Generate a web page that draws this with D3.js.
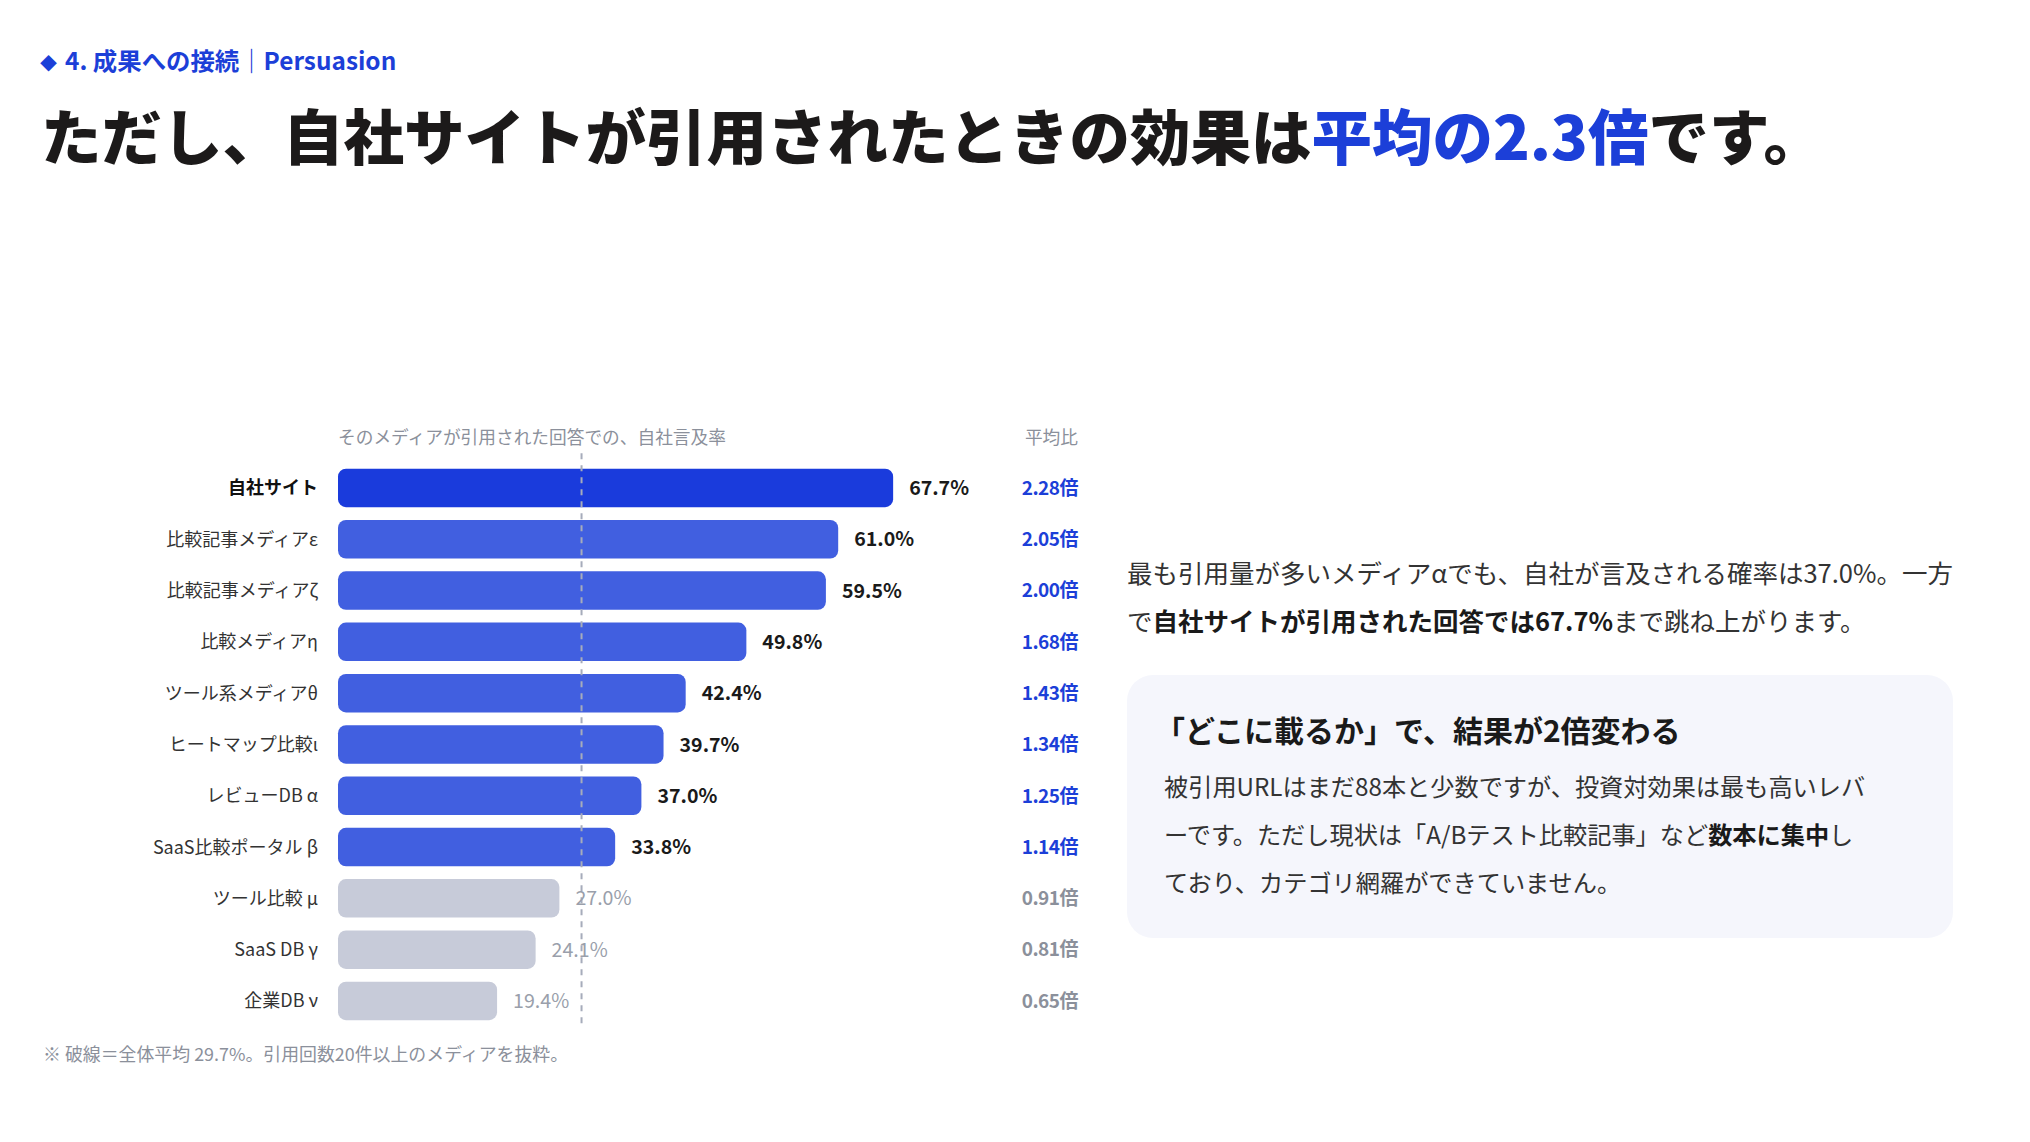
<!DOCTYPE html>
<html>
<head>
<meta charset="utf-8">
<script src="https://cdn.jsdelivr.net/npm/d3@7"></script>
<style>
  html, body { margin: 0; padding: 0; background: #fff; }
  svg { display: block; font-family: "Noto Sans CJK JP", "Noto Sans", sans-serif; }
</style>
</head>
<body>
<script>
// Data
const categories = [
  '自社サイト', '比較記事メディアε', '比較記事メディアζ', '比較メディアη',
  'ツール系メディアθ', 'ヒートマップ比較ι', 'レビューDB α', 'SaaS比較ポータル β',
  'ツール比較 μ', 'SaaS DB γ', '企業DB ν'
];
const values = [67.7, 61.0, 59.5, 49.8, 42.4, 39.7, 37.0, 33.8, 27.0, 24.1, 19.4];
const ratios = ['2.28', '2.05', '2.00', '1.68', '1.43', '1.34', '1.25', '1.14', '0.91', '0.81', '0.65'];
const average = 29.7;

const dataset = categories.map((c, i) => ({ key: c, value: values[i], ratio: ratios[i], own: i === 0 }));

const w = 2030;
const h = 1142;

const blue = '#1c3fd8';
const barBlue = '#415fe0';
const barGray = '#c7cbd9';
const gray = '#8b909b';
const ink = '#1c1a1a';

const xScale = d3.scaleLinear().domain([0, 100]).range([338, 1158]);
const yScale = d3.scaleBand().domain(categories).range([462.3, 1026.6]).paddingInner(0.25).paddingOuter(0.125);

const svg = d3.select('body').append('svg').attr('width', w).attr('height', h);

// Header
const kicker = svg.append('text')
  .attr('x', 40).attr('y', 70)
  .attr('font-size', 24.4).attr('font-weight', 700).attr('fill', blue);
kicker.append('tspan').attr('font-size', 17).text('◆');
kicker.append('tspan').attr('dx', 8).text('4. 成果への接続｜Persuasion');

const title = svg.append('text')
  .attr('x', 41).attr('y', 160)
  .attr('font-size', 60.5).attr('font-weight', 900).attr('fill', ink);
title.append('tspan').text('ただし、自社サイトが引用されたときの効果は');
title.append('tspan').attr('fill', blue).text('平均の2.3倍');
title.append('tspan').text('です。');

// Column headers
svg.append('text')
  .attr('x', xScale(0)).attr('y', 444)
  .attr('font-size', 17.7).attr('fill', gray)
  .text('そのメディアが引用された回答での、自社言及率');

svg.append('text')
  .attr('x', 1078).attr('y', 444)
  .attr('text-anchor', 'end')
  .attr('font-size', 17.7).attr('fill', gray)
  .text('平均比');

// Bars
svg.selectAll('rect.bar')
  .data(dataset, d => d.key)
  .enter()
  .append('rect')
  .attr('class', 'bar')
  .attr('x', xScale(0))
  .attr('y', d => yScale(d.key))
  .attr('width', d => xScale(d.value) - xScale(0))
  .attr('height', yScale.bandwidth())
  .attr('rx', 8)
  .attr('fill', d => d.own ? '#1a3bdc' : (d.value > average ? barBlue : barGray));

// Average dashed line
svg.append('line')
  .attr('x1', xScale(average)).attr('x2', xScale(average))
  .attr('y1', yScale.range()[0] - 9).attr('y2', yScale.range()[1])
  .attr('stroke', '#a6acbb').attr('stroke-width', 2)
  .attr('stroke-dasharray', '6,6');

// Category labels
svg.selectAll('text.cat')
  .data(dataset)
  .enter()
  .append('text')
  .attr('class', 'cat')
  .attr('x', 318)
  .attr('y', d => yScale(d.key) + yScale.bandwidth() / 2)
  .attr('dy', '0.36em')
  .attr('text-anchor', 'end')
  .attr('font-size', 18)
  .attr('font-weight', d => d.own ? 700 : 400)
  .attr('fill', d => d.own ? '#111' : '#333')
  .text(d => d.key);

// Value labels
svg.selectAll('text.val')
  .data(dataset)
  .enter()
  .append('text')
  .attr('class', 'val')
  .attr('x', d => xScale(d.value) + 16)
  .attr('y', d => yScale(d.key) + yScale.bandwidth() / 2)
  .attr('dy', '0.36em')
  .attr('font-size', 19.6)
  .attr('font-weight', d => d.value > average ? 700 : 400)
  .attr('fill', d => d.value > average ? '#1a1a1a' : '#9a9fab')
  .text(d => d.value.toFixed(1) + '%');

// Ratio labels
svg.selectAll('text.ratio')
  .data(dataset)
  .enter()
  .append('text')
  .attr('class', 'ratio')
  .attr('x', 1078)
  .attr('y', d => yScale(d.key) + yScale.bandwidth() / 2)
  .attr('dy', '0.36em')
  .attr('text-anchor', 'end')
  .attr('font-size', 19)
  .attr('font-weight', 700)
  .attr('letter-spacing', -0.5)
  .attr('fill', d => d.value > average ? blue : gray)
  .text(d => d.ratio + '倍');

// Footnote
svg.append('text')
  .attr('x', 43).attr('y', 1061)
  .attr('font-size', 17.9).attr('fill', gray)
  .text('※ 破線＝全体平均 29.7%。引用回数20件以上のメディアを抜粋。');

// Right-hand copy
const lead = svg.append('g').attr('font-size', 25.5).attr('fill', '#333');
const l1 = lead.append('text').attr('x', 1127).attr('y', 583);
l1.text('最も引用量が多いメディアαでも、自社が言及される確率は37.0%。一方');
const l2 = lead.append('text').attr('x', 1127).attr('y', 631);
l2.append('tspan').text('で');
l2.append('tspan').attr('font-weight', 700).attr('fill', '#1a1a1a').text('自社サイトが引用された回答では67.7%');
l2.append('tspan').text('まで跳ね上がります。');

svg.append('rect')
  .attr('x', 1127).attr('y', 675)
  .attr('width', 826).attr('height', 263)
  .attr('rx', 26)
  .attr('fill', '#f5f6fc');

svg.append('text')
  .attr('x', 1155).attr('y', 742)
  .attr('font-size', 30).attr('font-weight', 700).attr('fill', '#1a1a1a')
  .text('「どこに載るか」で、結果が2倍変わる');

const body = svg.append('g').attr('font-size', 24.2).attr('fill', '#333');
const b1 = body.append('text').attr('x', 1164).attr('y', 796);
b1.text('被引用URLはまだ88本と少数ですが、投資対効果は最も高いレバ');
const b2 = body.append('text').attr('x', 1164).attr('y', 844);
b2.append('tspan').text('ーです。ただし現状は「A/Bテスト比較記事」など');
b2.append('tspan').attr('font-weight', 700).attr('fill', '#1a1a1a').text('数本に集中');
b2.append('tspan').text('し');
const b3 = body.append('text').attr('x', 1164).attr('y', 892);
b3.text('ており、カテゴリ網羅ができていません。');
</script>
</body>
</html>
